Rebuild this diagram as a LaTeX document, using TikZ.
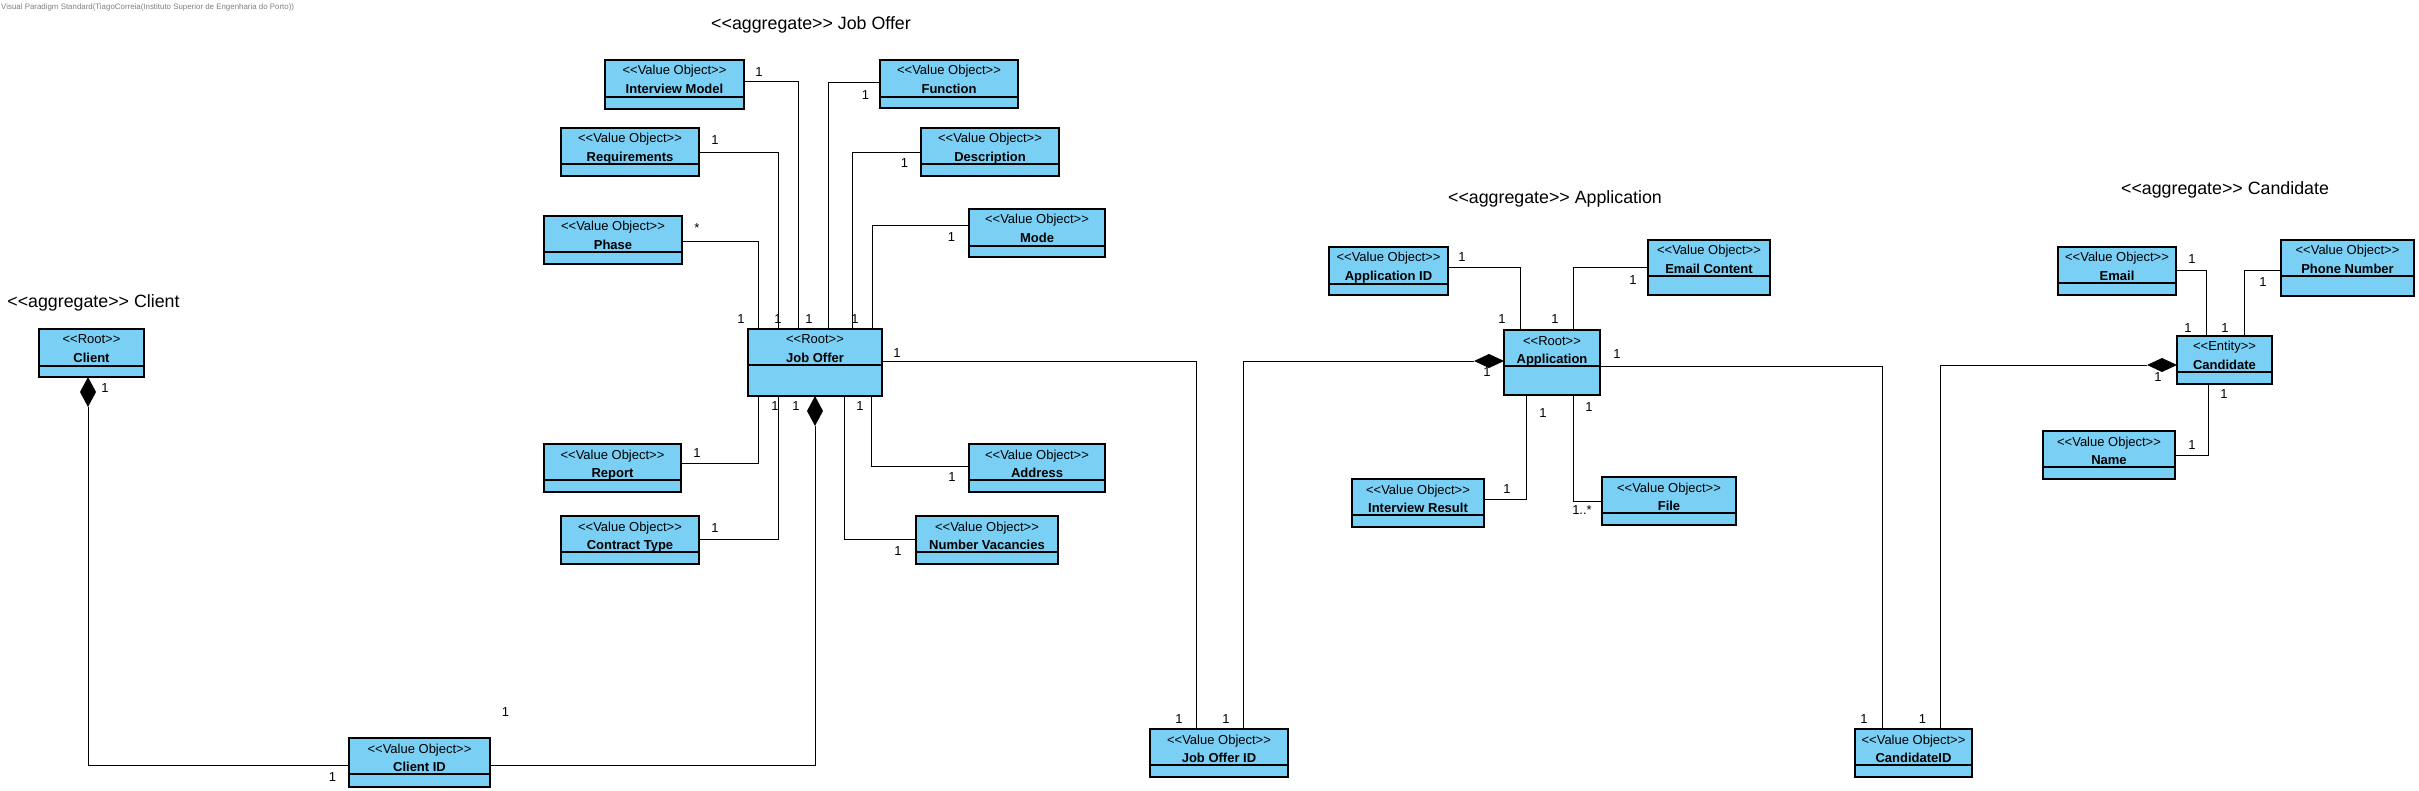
\documentclass[tikz,border=0pt]{standalone}
\usepackage{fontspec}
\setmainfont{Liberation Sans}[Ligatures=TeXOff]
\definecolor{vo}{RGB}{122,207,245}
\tikzset{
  umlcls/.style={draw, line width=1.1pt, fill=vo, inner sep=0pt, outer sep=0pt},
  sepline/.style={line width=1.1pt},
  stereo/.style={anchor=base, inner sep=0pt, font=\fontsize{13}{15}\selectfont},
  clsname/.style={anchor=base, inner sep=0pt, font=\fontsize{13}{15}\selectfont\bfseries},
  mult/.style={inner sep=0pt, font=\fontsize{13}{15}\selectfont},
  conn/.style={line width=0.9pt},
  aggtitle/.style={anchor=base, inner sep=0pt, font=\fontsize{17.8}{20}\selectfont},
  comp/.style={fill=black},
}
\newcommand\umlbox[8]{%
  \node[umlcls, minimum width={(#4-#2)*1pt}, minimum height={(#5-#3)*1pt}] (#1) at ({(#2+#4)/2},{(#3+#5)/2}) {};
  \draw[sepline] (#2,#6) -- (#4,#6);
  \node[stereo] at ({(#2+#4)/2},{#3+15}) {#7};
  \node[clsname] at ({(#2+#4)/2},{#3+33.5}) {#8};
}
\begin{document}
\begin{tikzpicture}[x=1pt,y=-1pt]
\useasboundingbox (0,0) rectangle (2419,791);
\node[anchor=west, inner sep=0pt, text=black!50, font=\fontsize{7.9}{9}\selectfont] (hdr) at (1,7) {Visual Paradigm Standard(TiagoCorreia(Instituto Superior de Engenharia do Porto))};

% titles
\node[aggtitle] (t1) at (811,29.4) {<<aggregate>> Job Offer};
\node[aggtitle] (t2) at (93.5,307.4) {<<aggregate>> Client};
\node[aggtitle] (t3) at (1555,203.4) {<<aggregate>> Application};
\node[aggtitle] (t4) at (2225,194.4) {<<aggregate>> Candidate};

% boxes
\umlbox{cl}{39}{329}{144}{377}{366}{<<Root>>}{Client}
\umlbox{cid}{349}{738}{490}{787}{774}{<<Value Object>>}{Client ID}
\umlbox{jo}{748}{329}{882}{396}{365}{<<Root>>}{Job Offer}
\umlbox{im}{605}{60}{744}{109}{97}{<<Value Object>>}{Interview Model}
\umlbox{fn}{880}{60}{1018}{108}{97}{<<Value Object>>}{Function}
\umlbox{req}{561}{128}{699}{176}{164}{<<Value Object>>}{Requirements}
\umlbox{desc}{921}{128}{1059}{176}{164}{<<Value Object>>}{Description}
\umlbox{ph}{544}{216}{682}{264}{252}{<<Value Object>>}{Phase}
\umlbox{mode}{969}{209}{1105}{257}{246}{<<Value Object>>}{Mode}
\umlbox{rep}{544}{444}{681}{492}{480}{<<Value Object>>}{Report}
\umlbox{ct}{561}{516}{699}{564}{552}{<<Value Object>>}{Contract Type}
\umlbox{nv}{916}{516}{1058}{564}{552}{<<Value Object>>}{Number Vacancies}
\umlbox{addr}{969}{444}{1105}{492}{480}{<<Value Object>>}{Address}
\umlbox{joid}{1150}{729}{1288}{777}{765}{<<Value Object>>}{Job Offer ID}
\umlbox{aid}{1329}{247}{1448}{295}{284}{<<Value Object>>}{Application ID}
\umlbox{ec}{1648}{240}{1770}{295}{276}{<<Value Object>>}{Email Content}
\umlbox{app}{1504}{330}{1600}{395}{366}{<<Root>>}{Application}
\umlbox{ir}{1352}{479}{1484}{527}{515}{<<Value Object>>}{Interview Result}
\umlbox{file}{1602}{477}{1736}{525}{513}{<<Value Object>>}{File}
\umlbox{candid}{1855}{729}{1972}{777}{765}{<<Value Object>>}{CandidateID}
\umlbox{em}{2058}{247}{2176}{295}{283}{<<Value Object>>}{Email}
\umlbox{pn}{2281}{240}{2414}{296}{276}{<<Value Object>>}{Phone Number}
\umlbox{cand}{2177}{336}{2272}{384}{372}{<<Entity>>}{Candidate}
\umlbox{nm}{2043}{431}{2175}{479}{467}{<<Value Object>>}{Name}

% Job Offer connectors
\draw[conn] (im.east |- 0,81) -| (jo.north -| 798,0);
\draw[conn] (fn.west |- 0,82) -| (jo.north -| 828,0);
\draw[conn] (req.east |- 0,152) -| (jo.north -| 778,0);
\draw[conn] (desc.west |- 0,152) -| (jo.north -| 852,0);
\draw[conn] (ph.east |- 0,241) -| (jo.north -| 758,0);
\draw[conn] (mode.west |- 0,225) -| (jo.north -| 872,0);
\draw[conn] (rep.east |- 0,463) -| (jo.south -| 758,0);
\draw[conn] (ct.east |- 0,539) -| (jo.south -| 778,0);
\draw[conn] (nv.west |- 0,539) -| (jo.south -| 844,0);
\draw[conn] (addr.west |- 0,466) -| (jo.south -| 871,0);

% Client
\fill[comp] (cl.south -| 88,0) -- ++(8,15) -- ++(-8,15) -- ++(-8,-15) -- cycle;
\path (cl.south -| 88,0) ++(0,30) coordinate (cld);
\draw[conn] (cld) |- (cid.west |- 0,765);
\fill[comp] (jo.south) -- ++(8,15) -- ++(-8,15) -- ++(-8,-15) -- cycle;
\path (jo.south) ++(0,30) coordinate (jod);
\draw[conn] (cid.east |- 0,765) -| (jod);

% cross-aggregate
\draw[conn] (jo.east |- 0,361) -| (joid.north -| 1196,0);
\fill[comp] (app.west |- 0,361) -- ++(-15,-7) -- ++(-15,7) -- ++(15,7) -- cycle;
\path (app.west |- 0,361) ++(-30,0) coordinate (appd);
\draw[conn] (appd) -| (joid.north -| 1243,0);
\draw[conn] (app.east |- 0,366) -| (candid.north -| 1882,0);
\fill[comp] (cand.west |- 0,365) -- ++(-15,-7) -- ++(-15,7) -- ++(15,7) -- cycle;
\path (cand.west |- 0,365) ++(-30,0) coordinate (candd);
\draw[conn] (candd) -| (candid.north -| 1940,0);

% Application
\draw[conn] (aid.east |- 0,267) -| (app.north -| 1520,0);
\draw[conn] (ec.west |- 0,267) -| (app.north -| 1573,0);
\draw[conn] (ir.east |- 0,499) -| (app.south -| 1526,0);
\draw[conn] (file.west |- 0,501) -| (app.south -| 1573,0);

% Candidate
\draw[conn] (em.east |- 0,270) -| (cand.north -| 2206,0);
\draw[conn] (pn.west |- 0,270) -| (cand.north -| 2244,0);
\draw[conn] (nm.east |- 0,455) -| (cand.south -| 2208,0);

% multiplicities
\node[mult] (m1) at (759,72) {1};
\node[mult] (m2) at (865.5,95) {1};
\node[mult] (m3) at (715,140) {1};
\node[mult] (m4) at (904.6,163) {1};
\node[mult] (m5) at (697,228) {*};
\node[mult] (m6) at (951.6,237) {1};
\node[mult] (m7) at (741,319) {1};
\node[mult] (m8) at (778,319) {1};
\node[mult] (m9) at (809,319) {1};
\node[mult] (m10) at (855,319) {1};
\node[mult] (m11) at (897,353) {1};
\node[mult] (m12) at (775,406) {1};
\node[mult] (m13) at (796,406) {1};
\node[mult] (m14) at (860,406) {1};
\node[mult] (m15) at (697,453) {1};
\node[mult] (m16) at (715,528) {1};
\node[mult] (m17) at (898,551) {1};
\node[mult] (m18) at (952,477) {1};
\node[mult] (m19) at (105,388) {1};
\node[mult] (m20) at (332.5,777) {1};
\node[mult] (m21) at (505.5,712) {1};
\node[mult] (m22) at (1179,719) {1};
\node[mult] (m23) at (1226,719) {1};
\node[mult] (m24) at (1864,719) {1};
\node[mult] (m25) at (1922.5,719) {1};
\node[mult] (m26) at (1462,257) {1};
\node[mult] (m27) at (1633,280) {1};
\node[mult] (m28) at (1502,319) {1};
\node[mult] (m29) at (1555,319) {1};
\node[mult] (m30) at (1487,372) {1};
\node[mult] (m31) at (1617,354) {1};
\node[mult] (m32) at (1543,413) {1};
\node[mult] (m33) at (1589,407) {1};
\node[mult] (m34) at (1507,489) {1};
\node[mult] (m35) at (1582,510) {1..*};
\node[mult] (m36) at (2192,259) {1};
\node[mult] (m37) at (2263,282) {1};
\node[mult] (m38) at (2188,328) {1};
\node[mult] (m39) at (2225,328) {1};
\node[mult] (m40) at (2158,377) {1};
\node[mult] (m41) at (2224,394) {1};
\node[mult] (m42) at (2192,445) {1};
\end{tikzpicture}
\end{document}
